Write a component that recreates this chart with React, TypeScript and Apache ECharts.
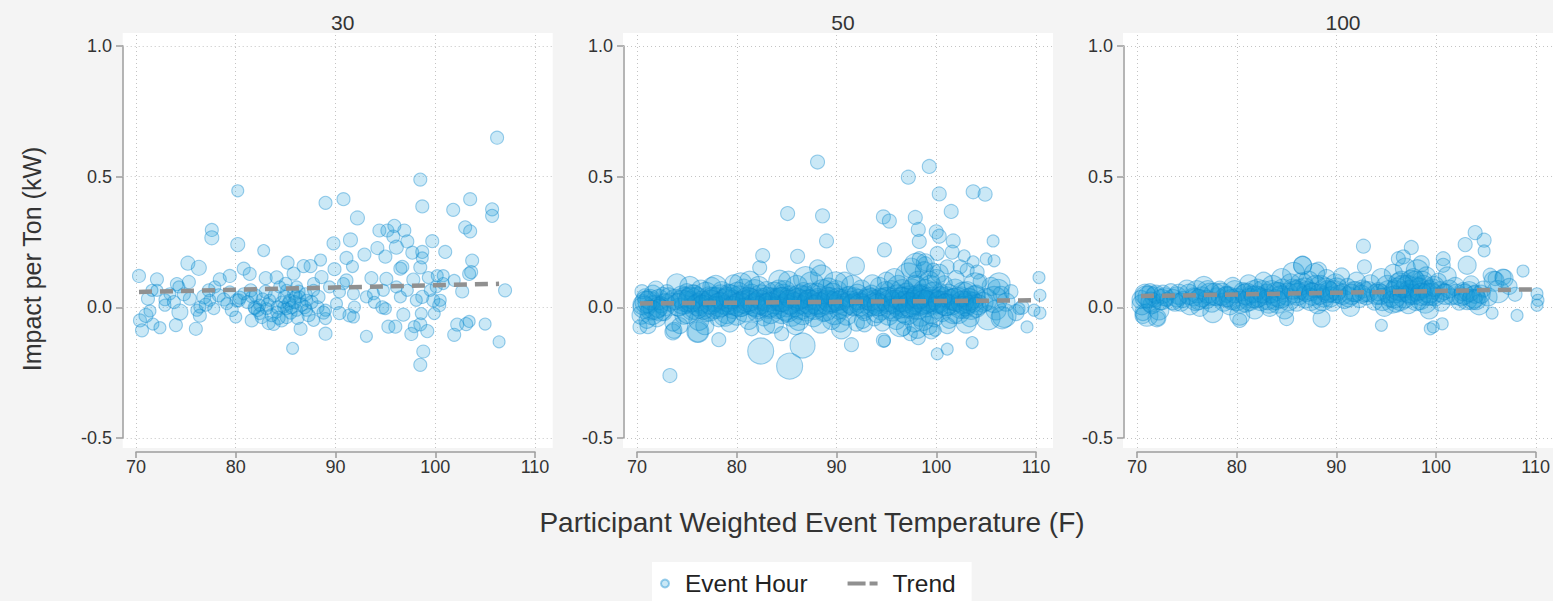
import React, { useEffect, useRef } from 'react';
import * as echarts from 'echarts';

// ---------- data ----------
const panelTitles = ['30', '50', '100'];
const xTicks = [70, 80, 90, 100, 110];
const yTicks = [-0.5, 0, 0.5, 1.0];
const seriesNames = ['Event Hour', 'Trend'];
const xTitle = 'Participant Weighted Event Temperature (F)';
const yTitle = 'Impact per Ton (kW)';

// [temperature, impact, bubble size]
const points30 = [
  [70.3,0.12,13],[70.4,-0.05,13],[70.6,-0.088,13],[71.0,-0.031,14],[71.2,0.033,13],[71.4,-0.014,12],[71.6,0.065,12],[71.7,-0.064,12],
  [72.1,0.107,13],[72.1,0.065,12],[72.4,-0.078,12],[72.9,0.008,12],[72.9,0.029,12],[73.4,0.052,12],[74.0,-0.068,13],[74.1,0.089,13],
  [74.3,0.078,12],[74.4,-0.018,16],[75.2,0.169,14],[75.3,0.097,13],[75.4,0.033,13],[76.0,-0.082,13],[76.1,-0.011,12],[76.3,0.151,15],
  [76.4,-0.032,13],[76.4,0.001,12],[77.3,0.065,13],[77.4,0.027,12],[77.6,0.296,13],[77.6,0.266,14],[77.8,-0.005,12],[77.9,0.078,12],
  [78.3,0.046,13],[78.4,0.107,13],[79.1,0.014,12],[79.4,0.12,13],[79.4,0.059,12],[80.0,-0.037,12],[80.1,0.027,13],[80.2,0.446,12],
  [80.2,0.24,14],[80.3,0.027,13],[80.4,0.037,13],[80.8,0.052,12],[80.8,0.148,13],[81.4,0.128,13],[81.6,0.04,12],[81.6,-0.05,13],
  [81.9,-0.005,12],[81.9,0.0,13],[82.4,0.008,12],[82.4,-0.024,12],[82.6,-0.037,13],[82.8,0.217,12],[83.0,0.112,13],[83.1,-0.005,12],
  [83.3,-0.06,13],[83.4,0.027,12],[83.8,-0.063,13],[84.1,0.115,13],[84.1,-0.018,12],[84.4,0.078,12],[84.6,0.02,12],[84.6,-0.05,13],
  [84.8,0.001,12],[85.1,0.065,12],[85.1,-0.005,12],[85.1,-0.037,13],[85.2,0.171,13],[85.3,0.015,13],[85.4,0.027,12],[85.7,-0.157,12],
  [85.8,0.129,13],[85.8,0.052,12],[86.0,0.04,13],[86.1,0.078,12],[86.1,-0.011,12],[86.4,0.04,12],[86.5,-0.082,13],[86.8,0.158,13],
  [86.9,0.001,13],[87.1,0.027,12],[87.1,-0.011,12],[87.5,0.158,13],[87.8,0.065,12],[87.8,0.091,12],[87.8,-0.05,12],[88.5,0.181,12],
  [88.6,0.116,13],[89.0,0.40,13],[89.0,-0.101,13],[89.0,-0.043,12],[89.0,-0.011,12],[89.4,0.078,12],[89.8,0.245,13],[89.9,0.146,13],
  [90.1,0.014,12],[90.4,0.059,12],[90.4,-0.022,13],[90.8,0.414,13],[90.8,0.091,12],[91.1,0.189,13],[91.1,0.103,13],[91.4,-0.031,13],
  [91.5,0.258,14],[91.7,0.156,12],[91.8,0.052,12],[91.8,-0.037,12],[91.9,0.001,12],[92.2,0.342,14],[92.9,0.202,13],[93.1,0.04,12],
  [93.1,-0.111,12],[93.6,0.112,13],[93.8,0.052,12],[93.9,0.019,12],[94.2,0.227,13],[94.4,0.294,13],[94.7,0.0,13],[94.8,0.065,12],
  [95.0,0.194,13],[95.0,-0.005,12],[95.1,0.109,13],[95.2,0.294,13],[95.3,-0.074,13],[95.8,0.271,13],[95.9,0.312,13],[96.0,-0.074,13],
  [96.1,0.23,14],[96.1,0.078,12],[96.5,0.148,13],[96.5,0.04,12],[96.7,0.155,13],[96.8,-0.028,13],[96.9,0.294,13],[97.2,0.252,13],
  [97.2,0.065,12],[97.6,-0.102,13],[97.7,0.209,13],[97.8,0.106,13],[97.9,-0.074,12],[98.1,0.027,12],[98.5,0.489,13],[98.5,0.153,13],
  [98.5,-0.22,13],[98.5,-0.065,13],[98.6,-0.024,12],[98.7,0.386,13],[98.7,0.212,13],[98.7,0.189,12],[98.7,0.04,13],[98.8,-0.169,13],
  [99.2,-0.091,13],[99.3,0.114,12],[99.5,0.065,12],[99.7,0.253,13],[99.8,0.027,13],[99.9,-0.024,12],[100.1,0.078,12],[100.2,0.121,12],
  [100.4,0.008,13],[100.5,0.027,12],[100.8,0.121,12],[100.8,0.091,12],[101.0,0.212,13],[101.8,0.373,13],[101.9,0.103,12],[101.9,-0.105,13],
  [102.2,-0.066,13],[102.7,0.061,13],[103.0,0.306,13],[103.1,-0.064,13],[103.4,-0.054,12],[103.4,0.128,13],[103.5,0.414,13],[103.5,0.291,13],
  [103.6,0.135,13],[103.7,0.179,13],[105.0,-0.064,12],[105.7,0.375,13],[105.7,0.35,13],[106.2,0.649,13],[106.4,-0.132,12],[107.0,0.065,13],
  [81.2,0.02,13],[81.5,0.065,13],[82.0,0.045,13],[82.2,-0.01,13],[82.7,0.03,13],[83.0,0.06,13],[83.2,0.01,13],[83.6,-0.03,13],
  [83.9,0.045,13],[84.2,0.0,13],[84.3,-0.04,13],[84.9,0.04,13],[85.0,0.09,13],[85.5,-0.02,13],[85.6,0.0,13],[85.9,0.02,13],
  [86.2,-0.04,13],[86.3,0.06,13],[86.6,0.01,13],[87.0,0.05,13],[87.3,-0.03,13],[87.6,0.02,13],[88.2,0.0,13],[88.3,0.04,13],
  [88.8,-0.02,13],[76.8,0.04,14],[77.0,0.01,13],[78.8,0.03,13],[79.6,-0.01,13],[73.8,0.02,13],[74.8,0.05,13],
];

const points50 = [
  // outliers
  [88.1,0.556,14],[99.3,0.539,14],[97.2,0.498,14],[100.3,0.434,14],[103.7,0.442,14],[104.9,0.433,14],[101.5,0.367,14],[85.1,0.359,14],
  [88.6,0.35,14],[94.7,0.346,14],[95.3,0.33,14],[97.9,0.344,14],[98.2,0.298,14],[100.0,0.289,14],[100.3,0.272,14],[89.0,0.254,14],
  [98.3,0.252,14],[101.7,0.254,14],[105.7,0.254,12],[82.6,0.198,14],[86.1,0.195,14],[94.8,0.22,14],[100.1,0.206,14],[101.6,0.211,14],
  [102.8,0.197,12],[105.0,0.185,12],[105.8,0.178,12],[103.7,0.174,12],[82.3,0.151,14],[91.9,0.158,18],[88.1,0.151,16],[98.3,0.186,14],
  [98.9,0.167,14],[98.0,0.161,24],[99.7,0.142,14],[101.1,0.155,14],[102.4,0.155,14],[103.1,0.142,14],[104.1,0.135,14],[110.3,0.114,12],
  [110.4,0.046,12],[110.4,-0.022,12],[109.8,-0.011,12],[109.1,-0.075,12],[94.7,-0.126,14],[94.8,-0.129,12],[98.2,-0.116,14],[103.6,-0.135,12],
  [101.1,-0.16,12],[100.1,-0.178,12],[91.5,-0.143,14],[90.5,-0.082,20],[86.6,-0.146,25],[82.4,-0.167,26],[85.3,-0.225,26],[78.2,-0.124,14],
  [73.3,-0.261,14],[76.1,-0.092,22],[73.7,-0.088,16],[70.3,-0.075,14],[106.8,-0.031,24],[106.2,0.065,22],[108.3,-0.005,12],[99.9,-0.088,12],
  [81.5,-0.082,14],[84.5,-0.101,14],[92.8,-0.063,16],[96.7,-0.082,14],[97.4,-0.101,14],[73.6,-0.094,16],[76.1,-0.094,20],
  // band
  [70.4,-0.03,18],[70.6,0.01,20],[70.8,0.04,16],[71.0,-0.05,16],[71.2,0.02,22],[71.4,-0.01,20],[71.6,0.05,18],[71.8,0.0,24],
  [72.0,-0.04,18],[72.2,0.03,20],[72.4,0.01,16],[72.7,-0.02,16],[73.0,0.06,14],[73.3,0.02,18],[73.6,-0.06,16],[74.0,0.09,20],
  [74.2,0.0,18],[74.5,0.04,22],[74.7,-0.03,18],[75.0,0.06,16],[75.2,0.02,22],[75.5,-0.01,20],[75.7,0.05,18],[76.0,0.03,24],
  [76.2,-0.05,20],[76.4,0.07,18],[76.7,0.01,22],[77.0,-0.02,18],[77.2,0.04,20],[77.5,0.08,18],[77.7,0.0,22],[78.0,0.03,24],
  [78.2,-0.04,18],[78.5,0.06,20],[78.7,0.01,18],[79.0,-0.02,22],[79.2,0.05,20],[79.5,0.02,24],[79.7,0.09,18],[80.0,-0.03,20],
  [80.2,0.04,22],[80.5,0.0,18],[80.7,0.07,20],[81.0,0.02,24],[81.2,-0.05,18],[81.5,0.05,20],[81.7,0.01,22],[82.0,-0.02,18],
  [82.2,0.08,20],[82.5,0.03,22],[82.7,-0.04,16],[83.0,0.06,20],[83.2,0.0,22],[83.5,0.04,18],[83.7,-0.06,20],[84.0,0.02,24],
  [84.2,0.07,18],[84.5,-0.02,22],[84.7,0.05,20],[85.0,0.01,24],[85.2,0.1,20],[85.5,-0.03,22],[85.7,0.04,18],[86.0,0.08,22],
  [86.2,-0.05,20],[86.5,0.02,24],[86.7,0.06,18],[87.0,-0.01,22],[87.2,0.03,20],[87.5,0.09,24],[87.7,-0.04,18],[88.0,0.05,22],
  [88.2,0.01,20],[88.5,0.12,22],[88.7,-0.02,18],[89.0,0.04,20],[89.2,0.07,22],[89.5,-0.05,18],[89.7,0.02,20],[90.0,0.06,22],
  [90.2,-0.01,18],[90.5,0.03,20],[90.8,0.1,18],[91.0,-0.03,20],[91.3,0.05,16],[91.5,0.01,20],[91.8,0.04,18],[92.0,-0.06,16],
  [92.3,0.02,20],[92.5,0.07,18],[92.8,-0.02,16],[93.0,0.03,20],[93.3,0.0,18],[93.5,0.05,18],[93.8,-0.04,16],[94.0,0.02,20],
  [94.3,0.08,18],[94.5,-0.01,20],[94.8,0.04,18],[95.0,0.1,18],[95.2,-0.03,20],[95.5,0.06,22],[95.7,0.02,20],[96.0,-0.05,18],
  [96.2,0.08,22],[96.5,0.03,24],[96.7,-0.02,20],[97.0,0.05,22],[97.2,0.12,26],[97.4,0.0,22],[97.6,0.07,20],[97.8,-0.06,18],
  [98.0,0.03,24],[98.2,0.1,20],[98.4,-0.03,22],[98.6,0.05,20],[98.8,0.14,18],[99.0,0.01,24],[99.2,-0.07,18],[99.4,0.08,22],
  [99.6,0.03,20],[99.8,-0.04,18],[100.0,0.11,18],[100.2,0.02,20],[100.4,0.06,16],[100.6,-0.02,18],[100.8,0.09,16],[101.0,0.04,20],
  [101.3,-0.05,16],[101.6,0.01,20],[101.9,0.07,20],[102.2,-0.02,22],[102.5,0.04,20],[102.8,0.0,22],[103.1,0.06,20],[103.4,-0.04,18],
  [103.7,0.02,20],[104.0,0.05,18],[104.4,0.1,14],[105.0,0.03,22],[105.5,0.08,18],[106.0,-0.01,20],[106.5,0.05,16],[107.0,0.02,18],
  [107.5,0.06,14],[108.0,-0.02,16],[108.6,0.0,14],
  [70.5,0.06,14],[71.1,-0.07,16],[71.9,0.07,16],[72.6,0.05,14],[74.3,-0.07,16],[75.3,0.08,20],[76.8,-0.07,18],[77.9,0.08,22],
  [79.3,-0.06,18],[80.4,0.09,22],[81.3,0.1,20],[82.9,-0.07,18],[84.3,0.1,22],[85.9,-0.07,18],[86.9,0.11,24],[88.4,-0.06,20],
  [89.9,0.09,24],[90.4,-0.06,18],[91.6,0.08,22],[92.6,-0.05,16],[93.6,0.09,18],[94.6,-0.06,16],[95.8,0.11,20],[96.4,-0.07,22],
  [97.5,0.15,20],[98.1,-0.08,20],[98.9,0.17,18],[99.5,-0.09,16],[100.3,0.13,18],[101.1,-0.07,16],[102.0,0.11,16],[103.0,-0.06,20],
  [103.9,0.09,22],[105.2,-0.04,24],[106.3,0.09,22],
  [72.8,0.01,22],[75.9,0.0,24],[78.9,0.02,26],[81.9,0.01,24],[84.9,0.0,26],[87.9,0.02,24],[90.9,0.01,22],[93.9,0.02,24],
  [96.9,0.01,26],[99.9,0.02,24],[102.9,0.01,22],[73.8,0.03,20],[76.5,0.02,22],[79.9,0.01,22],[83.9,0.03,22],[86.4,0.0,24],
  [89.4,0.02,22],[92.2,0.03,20],[95.4,0.0,22],[98.3,0.02,26],[101.4,0.03,20],[104.7,0.02,20],
  [70.7,0.0,22],[71.3,0.03,20],[71.5,-0.02,24],[72.1,0.0,20],[73.2,0.04,18],[74.1,0.01,22],[74.8,0.03,24],[75.1,-0.02,22],
  [75.6,0.04,24],[76.1,0.01,22],[76.9,0.05,24],[77.3,-0.01,22],[77.6,0.03,24],[78.1,0.0,22],[78.4,0.04,24],[78.8,-0.03,22],
  [79.1,0.03,24],[79.6,0.0,22],[80.1,0.05,24],[80.6,0.02,22],[80.9,-0.01,24],[81.4,0.03,22],[81.8,0.06,24],[82.1,0.0,22],
  [82.4,0.04,24],[82.8,0.01,22],[83.1,0.03,24],[83.4,-0.02,22],[83.8,0.05,24],[84.1,0.0,22],[84.4,0.03,24],[84.8,0.06,22],
  [85.1,-0.01,24],[85.4,0.04,22],[85.8,0.01,24],[86.1,0.03,22],[86.6,-0.02,24],[86.8,0.04,22],[87.1,0.01,24],[87.4,0.05,22],
  [87.8,0.0,24],[88.1,0.03,22],[88.6,0.06,24],[88.9,-0.01,22],[89.1,0.02,24],[89.6,0.05,22],[89.8,-0.02,24],[90.1,0.03,22],
  [90.6,0.0,22],[91.1,0.04,20],[91.7,0.01,22],[92.1,0.05,20],[92.7,0.0,22],[93.2,0.04,20],[93.7,0.01,22],[94.1,-0.02,20],
  [94.4,0.03,22],[94.9,0.06,20],[95.3,0.02,24],[95.6,-0.01,22],[96.1,0.04,24],[96.3,0.0,22],[96.6,0.06,24],[96.8,0.02,22],
  [97.1,-0.02,24],[97.3,0.04,22],[97.7,0.02,24],[97.9,0.08,22],[98.1,0.0,24],[98.5,0.04,22],[98.7,-0.05,20],[98.9,0.06,24],
  [99.1,0.02,22],[99.3,0.1,20],[99.5,-0.02,22],[99.7,0.05,24],[100.1,0.0,22],[100.5,0.04,20],[100.9,0.01,22],[101.2,0.05,20],
  [101.7,-0.02,22],[102.1,0.03,24],[102.4,0.0,22],[102.7,0.05,24],[103.2,0.02,22],[103.5,0.0,24],[103.8,0.04,22],[104.2,0.01,20],
  [105.8,0.03,26],[106.6,-0.04,22],
  [70.9,0.02,22],[72.3,-0.01,22],[74.6,0.02,24],[75.4,0.03,24],[76.6,0.0,24],[77.4,0.02,24],[78.3,0.01,24],[79.4,0.04,24],
  [80.3,0.01,24],[81.1,0.03,24],[82.3,0.02,24],[83.3,0.01,24],[84.6,0.03,24],[85.3,0.02,24],[86.3,0.04,24],[87.3,0.02,24],
  [88.3,0.01,24],[89.3,0.03,24],[90.3,0.02,22],[91.4,0.02,22],[92.4,0.01,22],[93.4,0.03,22],[94.2,0.01,22],[95.1,0.03,24],
  [95.9,0.02,24],[96.7,0.03,24],[97.4,0.01,24],[98.2,0.04,24],[98.8,0.02,24],[99.4,0.03,24],[100.3,0.02,22],[101.0,0.01,22],
  [101.8,0.03,22],[102.6,0.02,22],[103.3,0.03,22],[104.0,0.0,20],
];

const points100 = [
  // outliers
  [103.9,0.286,14],[104.8,0.257,14],[104.8,0.216,12],[102.9,0.24,14],[92.7,0.234,14],[97.5,0.229,14],[103.1,0.161,18],[108.7,0.139,12],
  [100.7,0.186,14],[100.7,0.161,14],[96.2,0.186,14],[96.7,0.193,14],[86.6,0.161,18],[88.2,0.142,16],[92.8,0.155,14],[98.5,0.167,16],
  [105.4,0.123,14],[106.7,0.116,16],[105.9,0.11,14],[110.1,0.052,12],[110.2,0.027,12],[110.1,0.008,12],[105.6,-0.022,12],[108.1,-0.031,12],
  [94.5,-0.069,12],[99.4,-0.082,12],[99.7,-0.075,12],[100.6,-0.063,12],[88.5,-0.043,17],[80.3,-0.05,14],[72.1,-0.043,14],[70.6,-0.031,16],
  [85.0,-0.043,14],
  // band
  [70.4,0.03,18],[70.6,-0.02,16],[70.8,0.05,20],[71.0,-0.03,22],[71.3,0.06,16],[71.5,0.01,18],[71.8,0.04,20],[72.0,-0.04,18],
  [72.3,0.02,16],[72.6,0.05,18],[73.0,0.03,14],[73.4,0.06,16],[73.8,0.02,18],[74.2,0.05,20],[74.6,0.03,16],[75.0,0.07,18],
  [75.3,0.01,20],[75.7,0.04,18],[76.0,0.06,22],[76.3,0.0,18],[76.7,0.08,20],[77.0,0.03,18],[77.3,0.05,22],[77.6,-0.02,20],
  [78.0,0.04,18],[78.3,0.07,16],[78.7,0.02,18],[79.0,0.05,16],[79.3,0.01,20],[79.6,0.08,18],[80.0,0.03,22],[80.3,-0.03,20],
  [80.6,0.06,18],[80.9,0.02,20],[81.2,0.09,18],[81.5,0.04,22],[81.8,-0.01,18],[82.1,0.07,20],[82.4,0.03,22],[82.7,0.1,18],
  [83.0,0.05,20],[83.3,0.0,18],[83.6,0.08,22],[83.9,0.03,20],[84.2,0.06,18],[84.5,0.11,20],[84.8,-0.01,18],[85.1,0.05,22],
  [85.4,0.09,20],[85.7,0.13,22],[86.0,0.02,18],[86.3,0.07,20],[86.6,0.16,18],[86.9,0.04,22],[87.2,0.1,20],[87.5,0.06,18],
  [87.8,0.13,20],[88.1,0.01,18],[88.4,0.08,22],[88.7,0.04,20],[89.0,0.11,18],[89.3,0.06,20],[89.6,0.02,18],[89.9,0.09,20],
  [90.2,0.05,18],[90.5,0.12,16],[90.8,0.03,18],[91.1,0.08,16],[91.4,0.0,18],[91.7,0.06,20],[92.0,0.1,18],[92.3,0.03,16],
  [92.6,0.07,18],[93.0,0.04,16],[93.4,0.09,18],[93.8,0.02,16],[94.2,0.06,18],[94.5,0.11,20],[94.8,0.0,18],[95.1,0.08,22],
  [95.4,0.04,20],[95.7,0.13,18],[96.0,0.02,20],[96.3,0.09,22],[96.6,0.06,20],[96.9,0.15,20],[97.2,0.01,18],[97.5,0.1,22],
  [97.8,0.05,20],[98.1,0.14,22],[98.4,0.03,20],[98.7,0.08,22],[99.0,0.12,18],[99.3,-0.01,18],[99.6,0.07,20],[99.9,0.04,18],
  [100.2,0.1,16],[100.5,0.02,18],[100.8,0.06,16],[101.1,0.12,18],[101.5,0.04,16],[101.9,0.08,18],[102.3,0.02,16],[102.7,0.06,18],
  [103.1,0.03,20],[103.5,0.09,16],[103.9,0.05,18],[104.3,0.01,20],[104.7,0.07,16],[105.2,0.04,18],[105.8,0.1,20],[106.2,0.06,22],
  [106.8,0.11,18],[107.3,0.08,16],[107.9,0.05,14],
  [71.2,0.04,22],[74.0,0.04,20],[77.8,0.05,22],[81.0,0.05,22],[84.0,0.05,24],[86.8,0.07,22],[89.8,0.06,22],[92.8,0.06,20],
  [95.9,0.06,22],[97.9,0.07,24],[99.5,0.05,22],[102.0,0.05,20],[103.8,0.04,22],[96.4,0.03,22],[98.9,0.02,22],[88.6,0.03,22],
  [83.2,0.02,22],[79.5,0.03,20],
  [70.5,0.01,20],[70.9,0.04,22],[71.4,0.02,20],[71.9,0.05,18],[72.2,-0.01,20],[72.8,0.04,18],[73.6,0.03,20],[74.4,0.02,18],
  [75.2,0.05,20],[75.9,0.03,22],[76.5,0.04,20],[77.1,0.06,22],[77.5,0.02,20],[78.5,0.05,22],[79.2,0.04,20],[79.8,0.06,22],
  [80.4,0.02,22],[80.8,0.05,20],[81.3,0.03,22],[81.7,0.06,22],[82.2,0.04,20],[82.6,0.06,22],[83.1,0.03,20],[83.5,0.06,22],
  [84.1,0.02,22],[84.6,0.07,20],[85.2,0.03,22],[85.6,0.07,20],[86.1,0.05,22],[86.5,0.09,22],[87.0,0.06,20],[87.4,0.03,22],
  [87.9,0.08,22],[88.3,0.05,20],[88.9,0.07,22],[89.4,0.04,20],[90.0,0.07,22],[90.6,0.05,20],[91.2,0.04,20],[91.9,0.06,20],
  [92.5,0.05,18],[93.2,0.06,20],[94.0,0.05,20],[94.6,0.03,22],[95.2,0.06,22],[95.6,0.02,22],[96.1,0.07,22],[96.5,0.1,20],
  [96.8,0.04,22],[97.1,0.08,22],[97.4,0.05,20],[97.7,0.11,20],[98.0,0.03,22],[98.3,0.07,22],[98.6,0.1,20],[99.1,0.05,22],
  [99.8,0.08,20],[100.4,0.06,20],[101.3,0.07,18],[102.5,0.04,18],[103.3,0.06,20],[104.0,0.03,20],[104.5,0.05,18],
  [72.5,0.03,20],[76.2,0.03,20],[78.9,0.04,20],[81.9,0.04,22],[84.4,0.04,22],[85.9,0.06,22],[87.6,0.05,22],[89.1,0.06,22],
  [91.5,0.05,20],[94.4,0.05,20],[95.8,0.04,22],[96.6,0.08,22],[97.3,0.06,22],[97.9,0.1,20],[98.5,0.05,22],[99.3,0.06,22],
  [100.9,0.05,20],[102.8,0.05,20],[103.6,0.03,20],
];

const trend30 = [[70.3, 0.059], [106.4, 0.09]];
const trend50 = [[70.3, 0.015], [110.4, 0.027]];
const trend100 = [[70.4, 0.043], [110.1, 0.069]];

const panelPoints = [points30, points50, points100];
const panelTrends = [trend30, trend50, trend100];

// ---------- layout ----------
const PANEL_LEFT = [122.7, 623, 1123];
const PANEL_W = 430;
const PANEL_TOP = 33;
const PANEL_H = 415;
const AXIS_LEFT = [136, 637, 1137];
const AXIS_W = 399;
const AXIS_TOP = 46;
const AXIS_H = 392;

const FONT = '"Liberation Sans", Arial, sans-serif';
const TEXT = '#333333';
const AXIS_COLOR = '#9c9c9c';
const GRID_COLOR = '#c4c4c4';
const TREND_COLOR = '#909090';

function buildOption() {
  const xMinT = xTicks[0];
  const xMaxT = xTicks[xTicks.length - 1];
  const yMinT = yTicks[0];
  const yMaxT = yTicks[yTicks.length - 1];
  const pxPerX = AXIS_W / (xMaxT - xMinT);
  const pxPerY = AXIS_H / (yMaxT - yMinT);

  const grid: any[] = [];
  const xAxis: any[] = [];
  const yAxis: any[] = [];
  const series: any[] = [];
  const title: any[] = [];

  for (let i = 0; i < 3; i++) {
    grid.push({
      left: PANEL_LEFT[i], top: PANEL_TOP, width: PANEL_W, height: PANEL_H,
      show: true, backgroundColor: '#ffffff', borderWidth: 0,
    });
    const xMin = xMinT - (AXIS_LEFT[i] - PANEL_LEFT[i]) / pxPerX;
    const xMax = xMin + PANEL_W / pxPerX;
    const yMax = yMaxT + (AXIS_TOP - PANEL_TOP) / pxPerY;
    const yMin = yMax - PANEL_H / pxPerY;
    xAxis.push({ gridIndex: i, type: 'value', min: xMin, max: xMax, show: false });
    yAxis.push({ gridIndex: i, type: 'value', min: yMin, max: yMax, show: false });

    title.push({
      text: panelTitles[i],
      left: PANEL_LEFT[i] + PANEL_W / 2,
      top: 7,
      textAlign: 'center',
      textStyle: { fontSize: 21, fontWeight: 'normal', color: TEXT, fontFamily: FONT },
    });

    series.push({
      name: seriesNames[0],
      type: 'scatter',
      xAxisIndex: i, yAxisIndex: i,
      data: panelPoints[i],
      symbolSize: (v: number[]) => v[2],
      itemStyle: {
        color: 'rgba(20,150,215,0.28)',
        borderColor: 'rgba(10,135,205,0.5)',
        borderWidth: 1.1,
      },
      silent: true,
      z: 2,
      markLine: {
        silent: true,
        symbol: 'none',
        z: 1,
        label: { show: false },
        lineStyle: { color: GRID_COLOR, type: [1, 3], width: 1 },
        data: [
          ...xTicks.map((x) => ({ xAxis: x })),
          ...yTicks.map((y) => ({ yAxis: y })),
        ],
      },
    });
    series.push({
      name: seriesNames[1],
      type: 'line',
      xAxisIndex: i, yAxisIndex: i,
      data: panelTrends[i],
      symbol: 'none',
      showSymbol: false,
      silent: true,
      z: 3,
      lineStyle: { color: TREND_COLOR, width: 4.5, type: [13, 8] },
      itemStyle: { color: TREND_COLOR },
    });
  }

  // axis-only grids
  for (let i = 0; i < 3; i++) {
    grid.push({ left: AXIS_LEFT[i], top: AXIS_TOP, width: AXIS_W, height: AXIS_H, show: false });
    xAxis.push({
      gridIndex: 3 + i, type: 'value', min: xMinT, max: xMaxT, interval: 10,
      offset: 14,
      axisLine: { show: true, onZero: false, lineStyle: { color: AXIS_COLOR, width: 1.5 } },
      axisTick: { show: true, length: 6, lineStyle: { color: AXIS_COLOR, width: 1.5 } },
      axisLabel: { fontSize: 18, color: TEXT, margin: 6, fontFamily: FONT },
      splitLine: { show: false },
    });
    yAxis.push({
      gridIndex: 3 + i, type: 'value', min: yMinT, max: yMaxT, interval: 0.5,
      offset: 13,
      axisLine: { show: true, onZero: false, lineStyle: { color: AXIS_COLOR, width: 1.5 } },
      axisTick: { show: true, length: 7, lineStyle: { color: AXIS_COLOR, width: 1.5 } },
      axisLabel: { fontSize: 18, color: TEXT, margin: 11, fontFamily: FONT, formatter: (v: number) => v.toFixed(1) },
      splitLine: { show: false },
    });
  }

  return {
    animation: false,
    backgroundColor: '#f4f4f4',
    textStyle: { fontFamily: FONT },
    title,
    grid,
    xAxis,
    yAxis,
    series,
    legend: {
      data: [
        { name: seriesNames[0] },
        {
          name: seriesNames[1],
          icon: 'path://M0 0H18V4H0Z M22 0H30V4H22Z',
          itemStyle: { color: TREND_COLOR, borderWidth: 0 },
          textStyle: { padding: [0, 0, 0, 10] },
        },
      ],
      left: 652,
      top: 562,
      padding: [9, 16, 12, 8],
      backgroundColor: '#ffffff',
      itemWidth: 30,
      itemHeight: 8,
      itemGap: 40,
      selectedMode: false,
      textStyle: { fontSize: 24.5, color: '#222222', fontFamily: FONT },
    },
    graphic: [
      {
        type: 'text', x: 32, y: 259, rotation: Math.PI / 2,
        style: { text: yTitle, fill: TEXT, font: `25px ${FONT}`, textAlign: 'center', textVerticalAlign: 'middle' },
      },
      {
        type: 'text', x: 812, y: 522,
        style: { text: xTitle, fill: TEXT, font: `28px ${FONT}`, textAlign: 'center', textVerticalAlign: 'middle' },
      },
    ],
  };
}

export default function App() {
  const ref = useRef<HTMLDivElement>(null);
  useEffect(() => {
    if (!ref.current) return;
    const chart = echarts.init(ref.current, null, { renderer: 'svg' });
    chart.setOption(buildOption() as any);
    return () => chart.dispose();
  }, []);
  return (
    <div
      ref={ref}
      style={{ position: 'fixed', left: 0, top: 0, width: 1553, height: 601 }}
    />
  );
}
